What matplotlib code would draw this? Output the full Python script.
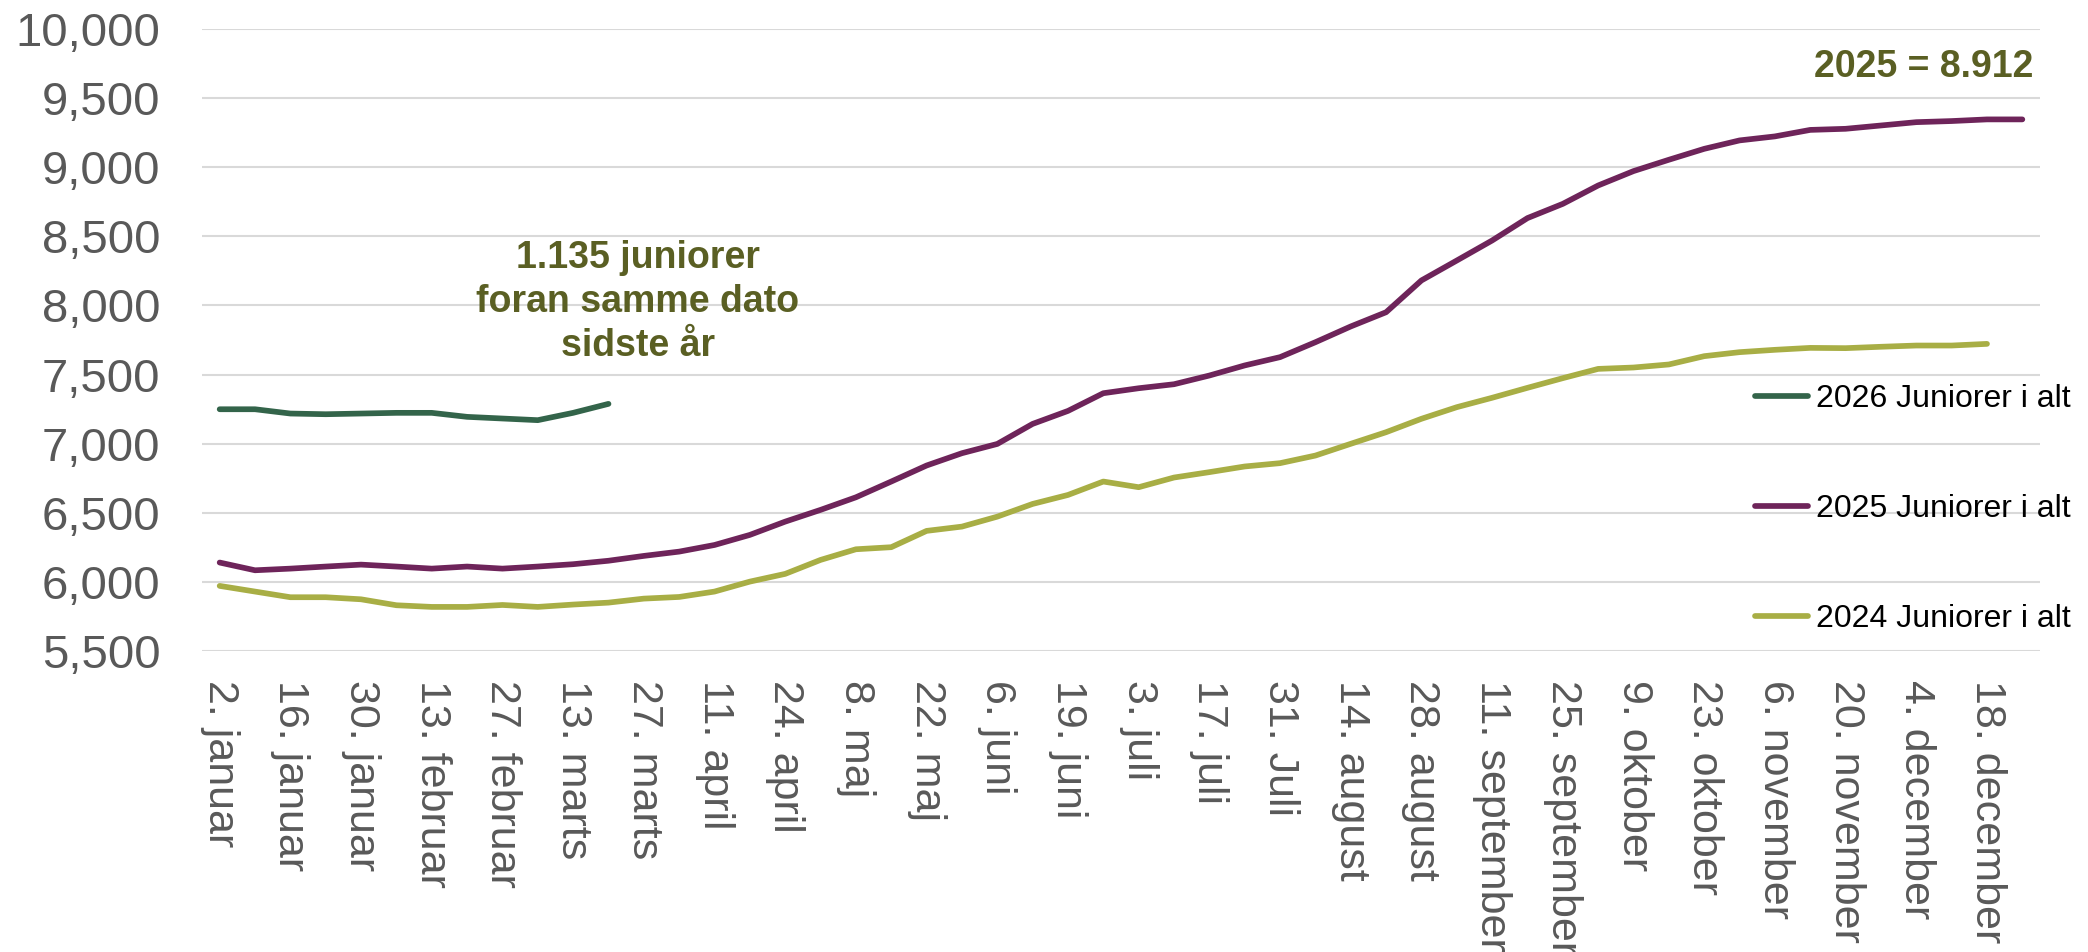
import matplotlib
matplotlib.use("Agg")
import matplotlib.pyplot as plt
from matplotlib.ticker import FuncFormatter, FixedLocator

plt.rcParams['font.family'] = ['Liberation Sans', 'DejaVu Sans']

# ---- data ----
tick_labels = ["2. januar", "16. januar", "30. januar", "13. februar", "27. februar",
               "13. marts", "27. marts", "11. april", "24. april", "8. maj", "22. maj",
               "6. juni", "19. juni", "3. juli", "17. juli", "31. Juli", "14. august",
               "28. august", "11. september", "25. september", "9. oktober",
               "23. oktober", "6. november", "20. november", "4. december", "18. december"]

y2026 = [7249, 7249, 7218, 7213, 7218, 7223, 7223, 7194, 7182, 7170, 7223, 7288]

y2025 = [6140, 6084, 6096, 6111, 6125, 6111, 6096, 6111, 6096, 6111, 6128, 6153,
         6188, 6219, 6267, 6340, 6436, 6521, 6612, 6726, 6842, 6931, 6998, 7143,
         7237, 7365, 7401, 7430, 7493, 7566, 7626, 7734, 7848, 7951, 8181, 8325,
         8470, 8632, 8735, 8868, 8972, 9054, 9133, 9194, 9223, 9270, 9278, 9302,
         9326, 9334, 9346, 9346]

y2024 = [5971, 5930, 5889, 5889, 5874, 5831, 5819, 5819, 5833, 5819, 5836, 5850,
         5879, 5891, 5930, 6002, 6058, 6159, 6236, 6251, 6369, 6400, 6472, 6564,
         6629, 6726, 6685, 6755, 6794, 6835, 6859, 6914, 6999, 7083, 7180, 7264,
         7332, 7404, 7474, 7541, 7551, 7573, 7633, 7662, 7679, 7693, 7691, 7701,
         7710, 7710, 7722]

series_labels = ["2026 Juniorer i alt", "2025 Juniorer i alt", "2024 Juniorer i alt"]
note_left = "1.135 juniorer\nforan samme dato\nsidste år"
note_right = "2025 = 8.912"

c2026 = "#33644a"
c2025 = "#6e245a"
c2024 = "#a8ae45"
c_note = "#5a5f23"
c_tick = "#595959"
c_grid = "#d9d9d9"

fig = plt.figure(figsize=(20.88, 9.52), dpi=100)
ax = fig.add_axes([202/2088, 1-651/952, (2040-202)/2088, (651-29)/952])

lw = 4.1
l24, = ax.plot(range(len(y2024)), y2024, color=c2024, lw=lw, solid_capstyle='round', solid_joinstyle='round', zorder=3)
l25, = ax.plot(range(len(y2025)), y2025, color=c2025, lw=lw, solid_capstyle='round', solid_joinstyle='round', zorder=4)
l26, = ax.plot(range(len(y2026)), y2026, color=c2026, lw=lw, solid_capstyle='round', solid_joinstyle='round', zorder=5)

ax.set_xlim(-0.5, 51.5)
ax.set_ylim(5500, 10000)
ax.set_yticks(range(5500, 10001, 500))
ax.yaxis.set_major_formatter(FuncFormatter(lambda v, p: f"{int(v):,}"))
ax.xaxis.set_major_locator(FixedLocator(list(range(0, 2*len(tick_labels), 2))))
ax.set_xticklabels(tick_labels, rotation=270, ha='center', va='top')

ax.grid(axis='y', color=c_grid, lw=1.5, zorder=0)
ax.set_axisbelow(True)
for s in ax.spines.values():
    s.set_visible(False)
ax.tick_params(axis='both', length=0)
ax.tick_params(axis='y', labelsize=34, labelcolor=c_tick, pad=30)
ax.tick_params(axis='x', labelsize=31, labelcolor=c_tick, pad=21)

ax.text(11.83, 8025, note_left, ha='center', va='center', fontsize=27,
        fontweight='bold', color=c_note, linespacing=1.3)
ax.text(51.3, 9725, note_right, ha='right', va='center', fontsize=27,
        fontweight='bold', color=c_note)

leg = ax.legend([l26, l25, l24], series_labels, loc='upper left',
                bbox_to_anchor=(1755/2088, 1-384/952), bbox_transform=fig.transFigure,
                frameon=False, fontsize=23, handlelength=1.66, handletextpad=0.25,
                labelspacing=2.5, borderpad=0, borderaxespad=0)
for h in leg.get_lines():
    h.set_linewidth(lw)
    h.set_solid_capstyle('round')

fig.savefig("out.png", dpi=100)
